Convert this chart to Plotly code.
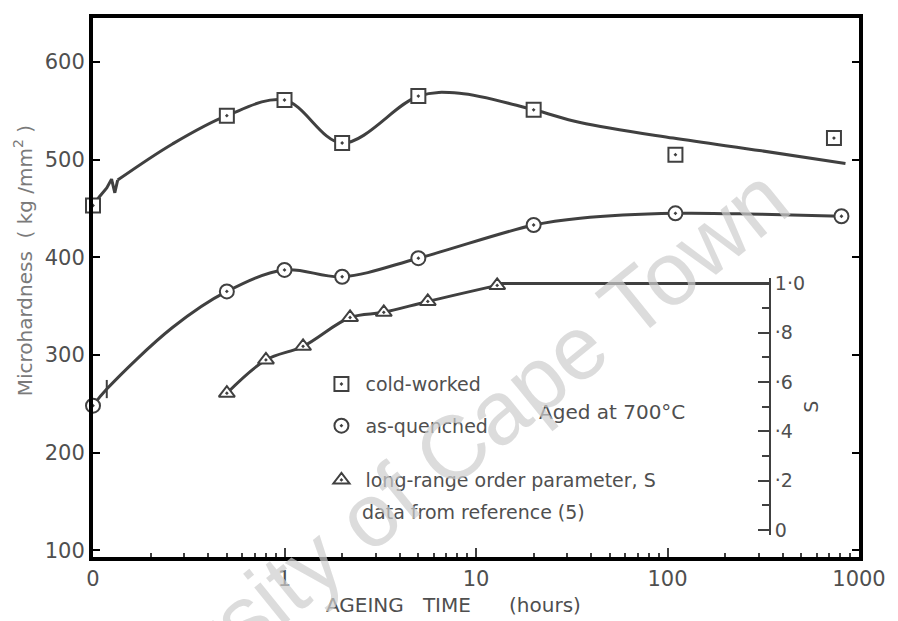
import math
import plotly.graph_objects as go

# ---------------- data ----------------
# ageing time in hours (x = 0.1 is the "0" origin of the log axis)
cw_time = [0.1, 0.5, 1, 2, 5, 20, 110, 740]
cw_hard = [453, 545, 561, 517, 565, 551, 505, 522]

aq_time = [0.1, 0.5, 1, 2, 5, 20, 110, 810]
aq_hard = [248, 365, 387, 380, 399, 433, 445, 442]

s_time = [0.5, 0.8, 1.25, 2.2, 3.3, 5.6, 12.9]
s_value = [0.555, 0.69, 0.745, 0.862, 0.883, 0.927, 0.992]

# drawn curves
cw_break_x = [0.1, 0.108, 0.118, 0.125, 0.130, 0.1345]
cw_break_y = [453, 462, 471, 480, 466, 479]
cw_curve_x = [0.1345, 0.26, 0.5, 1, 2, 5, 8.2, 20, 35, 107, 310, 850]
cw_curve_y = [479, 516, 545, 561, 517, 565, 568, 551, 538, 522, 509, 496]

aq_curve_x = [0.1, 0.118, 0.26, 0.5, 1, 2, 5, 20, 35, 110, 310, 810]
aq_curve_y = [248, 265, 328, 365, 387, 380, 399, 433, 440, 445, 444, 442]
aq_break_x = [0.118]
aq_break_y = [265]

s_curve_x = s_time
s_curve_y = s_value
s_axis_at = 343          # hours, where the S scale is drawn
s_flat_x = [12.9, s_axis_at]
s_flat_y = [1.0, 1.0]

x_tickvals = [0.1, 1, 10, 100, 1000]
x_ticktext = ["0", "1", "10", "100", "1000"]
x_minorvals = [m * 10.0 ** e for e in range(-1, 3) for m in range(2, 10)]
y_tickvals = [100, 200, 300, 400, 500, 600]
s_tickvals = [0, 0.2, 0.4, 0.6, 0.8, 1.0]
s_ticktext = ["0", "·2", "·4", "·6", "·8", "1·0"]
s_minorvals = [0.1, 0.3, 0.5, 0.7, 0.9]

x_range = [-1, 3]
y_range = [93, 645]

# ---------------- styling ----------------
INK = "#404040"
TXT = "#4f4f4f"
FONT = "DejaVu Sans"
LW = 3

fig = go.Figure()

# curves
fig.add_trace(go.Scatter(x=cw_break_x, y=cw_break_y, mode="lines",
                         line=dict(color=INK, width=LW), showlegend=False,
                         cliponaxis=False, hoverinfo="skip"))
fig.add_trace(go.Scatter(x=cw_curve_x, y=cw_curve_y, mode="lines",
                         line=dict(color=INK, width=LW, shape="spline", smoothing=1.0),
                         showlegend=False, hoverinfo="skip"))
fig.add_trace(go.Scatter(x=aq_curve_x, y=aq_curve_y, mode="lines",
                         line=dict(color=INK, width=LW, shape="spline", smoothing=1.0),
                         showlegend=False, hoverinfo="skip"))
fig.add_trace(go.Scatter(x=aq_break_x, y=aq_break_y, mode="markers",
                         marker=dict(symbol="line-ns", size=13,
                                     line=dict(color=INK, width=2)),
                         showlegend=False, hoverinfo="skip"))
fig.add_trace(go.Scatter(x=s_curve_x, y=s_curve_y, yaxis="y2", mode="lines",
                         line=dict(color=INK, width=LW, shape="spline", smoothing=1.0),
                         showlegend=False, hoverinfo="skip"))
fig.add_trace(go.Scatter(x=s_flat_x, y=s_flat_y, yaxis="y2", mode="lines",
                         line=dict(color=INK, width=LW),
                         showlegend=False, hoverinfo="skip"))

# data markers
mk = dict(size=14, color="white", line=dict(color=INK, width=2))
fig.add_trace(go.Scatter(x=cw_time, y=cw_hard, mode="markers", name="cold-worked",
                         marker=dict(symbol="square-dot", **mk), cliponaxis=False,
                         legend="legend", legendgroup="a"))
fig.add_trace(go.Scatter(x=aq_time, y=aq_hard, mode="markers", name="as-quenched",
                         marker=dict(symbol="circle-dot", **mk), cliponaxis=False,
                         legend="legend", legendgroup="b"))
fig.add_trace(go.Scatter(x=s_time, y=s_value, yaxis="y2", mode="markers",
                         name="long-range order parameter, S",
                         marker=dict(symbol="triangle-up-dot", **mk), cliponaxis=False,
                         legend="legend2"))

s_pos = (math.log10(s_axis_at) - x_range[0]) / (x_range[1] - x_range[0])

fig.update_layout(
    width=898, height=621,
    margin=dict(l=93, r=31, t=17, b=64),
    paper_bgcolor="white", plot_bgcolor="rgba(0,0,0,0)",
    font=dict(family=FONT, color=TXT, size=19),
    xaxis=dict(type="log", range=x_range, showgrid=False, zeroline=False,
               showline=True, linewidth=4, linecolor="black", mirror=True,
               ticks="inside", ticklen=9, tickwidth=1.5, tickcolor=INK,
               tickvals=x_tickvals, ticktext=x_ticktext,
               tickfont=dict(size=21, color=TXT, family=FONT),
               minor=dict(ticks="inside", ticklen=4, tickwidth=1.5, tickcolor=INK,
                          tickmode="array", tickvals=x_minorvals, showgrid=False)),
    yaxis=dict(range=y_range, showgrid=False, zeroline=False,
               showline=True, linewidth=4, linecolor="black", mirror="allticks",
               ticks="inside", ticklen=7, tickwidth=2, tickcolor="black",
               tickvals=y_tickvals,
               tickfont=dict(size=21, color=TXT, family=FONT)),
    yaxis2=dict(domain=[0.0407, 0.5167], range=[-0.02, 1.02], anchor="free",
                position=s_pos, side="right", showgrid=False, zeroline=False,
                showline=True, linewidth=2, linecolor=INK,
                ticks="inside", ticklen=11, tickwidth=2, tickcolor=INK,
                tickvals=s_tickvals, ticktext=s_ticktext,
                tickfont=dict(size=19, color=TXT, family=FONT),
                minor=dict(ticks="inside", ticklen=7, tickwidth=1.5, tickcolor=INK,
                           tickmode="array", tickvals=s_minorvals, showgrid=False),
                title=dict(text="S", standoff=0, font=dict(size=19, color=TXT))),
    legend=dict(x=0.293, y=0.356, xanchor="left", yanchor="top",
                bgcolor="rgba(0,0,0,0)", tracegroupgap=14, itemwidth=38,
                font=dict(size=19, color=TXT, family=FONT)),
    legend2=dict(x=0.293, y=0.178, xanchor="left", yanchor="top",
                 bgcolor="rgba(0,0,0,0)", itemwidth=38,
                 font=dict(size=19, color=TXT, family=FONT)),
    annotations=[
        dict(text="data from reference (5)", x=0.349, y=0.083, xref="paper", yref="paper",
             xanchor="left", yanchor="middle", showarrow=False,
             font=dict(size=19, color=TXT, family=FONT)),
        dict(text="Aged at 700°C", x=0.677, y=0.2685, xref="paper", yref="paper",
             xanchor="center", yanchor="middle", showarrow=False,
             font=dict(size=20, color=TXT, family=FONT)),
        dict(text="AGEING&nbsp;&nbsp;&nbsp;TIME&nbsp;&nbsp;&nbsp;&nbsp;&nbsp;&nbsp;(hours)",
             x=0.47, y=-0.089, xref="paper", yref="paper",
             xanchor="center", yanchor="middle", showarrow=False,
             font=dict(size=20, color=TXT, family=FONT)),
        dict(text="Microhardness&nbsp;&nbsp;(&nbsp;kg&nbsp;/mm<sup>2</sup>&nbsp;)",
             textangle=-90,
             x=-0.0917, y=0.55, xref="paper", yref="paper",
             xanchor="center", yanchor="middle", showarrow=False,
             font=dict(size=20, color="#7a7a7a", family=FONT)),
        dict(text="University of Cape Town", textangle=-39,
             x=0.4005, y=0.122, xref="paper", yref="paper",
             xanchor="center", yanchor="middle", showarrow=False,
             font=dict(size=90, color="rgba(205,205,205,0.7)", family="Liberation Sans")),
    ],
)

fig.write_html("out.html")
